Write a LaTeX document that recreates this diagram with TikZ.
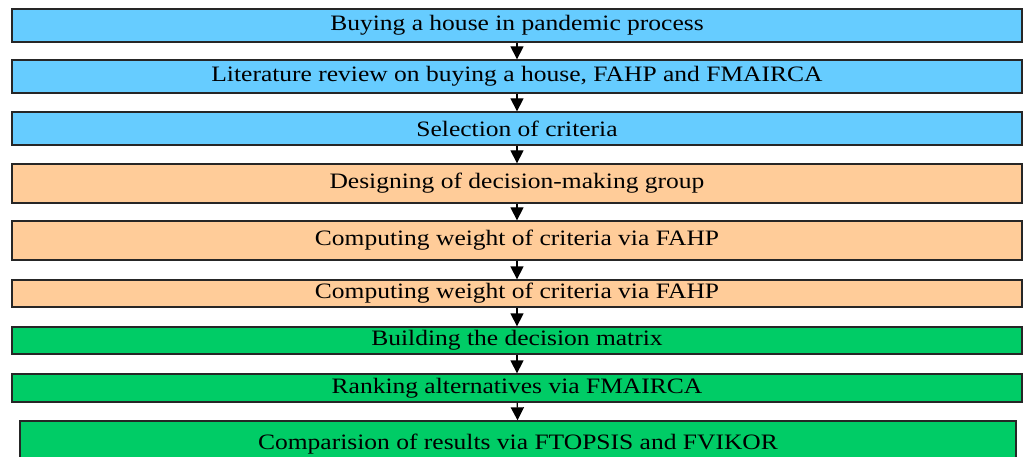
\documentclass[tikz,border=0pt]{standalone}
\usepackage{fontspec}
\setmainfont[FakeStretch=1.16]{Liberation Serif}
\usepackage{tikz}
\usetikzlibrary{arrows.meta}

\definecolor{stepblue}{HTML}{66CCFF}
\definecolor{steporange}{HTML}{FFCC99}
\definecolor{stepgreen}{HTML}{00CC66}

\begin{document}
\begin{tikzpicture}[x=1pt,y=-1pt,
	box/.style={draw=black!85,line width=1.3pt,minimum width=1010pt,inner sep=0pt,font=\fontsize{22}{24}\selectfont},
	bluebox/.style={box,fill=stepblue,minimum height=33pt},
	orangebox/.style={box,fill=steporange},
	greenbox/.style={box,fill=stepgreen},
	flow/.style={line width=1.3pt,-{Triangle[width=13pt,length=13pt]}}]
	\useasboundingbox (0,0) rectangle (1025,457);
	\node[bluebox] (buy) at (517,25.5) {Buying a house in pandemic process};
	\node[bluebox] (review) at (517,76.5) {Literature review on buying a house, FAHP and FMAIRCA};
	\node[bluebox] (select) at (517,128.5) {Selection of criteria};
	\node[orangebox,minimum height=39pt] (group) at (517,183.5) {Designing of decision-making group};
	\node[orangebox,minimum height=39pt] (weight) at (517,240.5) {Computing weight of criteria via FAHP};
	\node[orangebox,minimum height=27pt] (weighttwo) at (517,293.5) {Computing weight of criteria via FAHP};
	\node[greenbox,minimum height=27pt] (matrix) at (517,340.5) {Building the decision matrix};
	\node[greenbox,minimum height=28pt] (rank) at (517,388) {Ranking alternatives via FMAIRCA};
	\node[greenbox,minimum width=996pt,minimum height=47pt] (compare) at (518,444.5) {Comparision of results via FTOPSIS and FVIKOR};
	\draw[flow] (buy) -- (review);
	\draw[flow] (review) -- (select);
	\draw[flow] (select) -- (group);
	\draw[flow] (group) -- (weight);
	\draw[flow] (weight) -- (weighttwo);
	\draw[flow] (weighttwo) -- (matrix);
	\draw[flow] (matrix) -- (rank);
	\draw[flow] (rank) -- (compare);
\end{tikzpicture}
\end{document}
